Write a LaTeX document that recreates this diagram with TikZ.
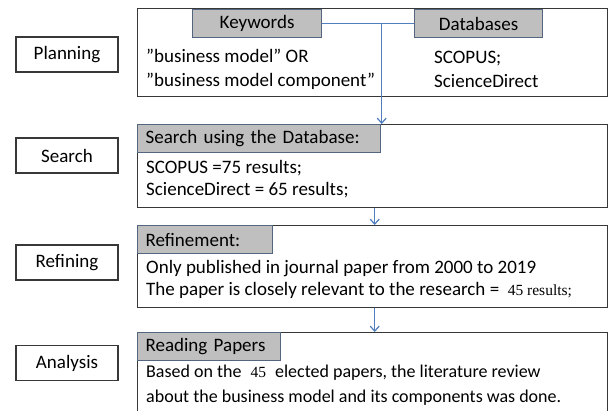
\documentclass[tikz,border=0pt]{standalone}
\usepackage{fontspec}
\setmainfont{Carlito}
\newfontfamily\numfont{Liberation Serif}
\usetikzlibrary{arrows.meta,
                calc,
                positioning}

\definecolor{hdrfill}{RGB}{191,191,191}
\definecolor{hdrline}{RGB}{84,101,128}
\definecolor{boxline}{RGB}{56,56,56}
\definecolor{flowblue}{RGB}{79,125,190}

\begin{document}
\begin{tikzpicture}[
    x=1pt, y=-1pt,
    font=\fontsize{19}{22}\selectfont,
        base/.style = {draw=boxline, line width=1.4pt, inner sep=0pt},
        stage/.style = {base, minimum width=102pt, minimum height=35pt},
        panel/.style = {base, anchor=north west, minimum width=470pt},
        header/.style = {draw=hdrline, line width=1.2pt, fill=hdrfill,
                    anchor=north west, minimum height=28pt, inner sep=0pt},
        hdrleft/.style = {header, inner xsep=8pt, align=left, text width=#1},
        body/.style = {anchor=west, align=left, inner sep=0pt},
        flow/.style = {draw=flowblue, line width=1.2pt},
        arrows=-{Straight Barb[length=5pt,width=9pt]}
        ]

    \clip (0,0) rectangle (610,411);

    % Stages on the left
    \node[stage] (planning) at (67,54.5)  {Planning};
    \node[stage] (search)   at (67,155.5) {Search};
    \node[stage] (refining) at (67,262.5) {Refining};
    \node[stage] (analysis) at (67,363)   {Analysis};

    % Panels
    \node[panel, minimum height=88pt] (plan-box)   at (137,8)   {};
    \node[panel, minimum height=83pt] (search-box) at (137,124) {};
    \node[panel, minimum height=82pt] (refine-box) at (137,225) {};
    \node[panel, minimum height=90pt] (read-box)   at (137,332) {};

    % Headers
    \node[header, minimum width=129pt] (keywords)  at (192,9) {Keywords};
    \node[header, minimum width=128pt] (databases) at (414,9) {Databases};
    \node[hdrleft=227pt] (search-hdr) at (search-box.north west) {Search using the Database:};
    \node[hdrleft=119pt] (refine-hdr) at (refine-box.north west) {Refinement:};
    \node[hdrleft=127pt] (read-hdr)   at (read-box.north west)   {Reading Papers};

    % Panel texts
    \node[body, font=\fontsize{19}{24}\selectfont] (kw-text) at (146,69)
        {”business model” OR\\ ”business model component”};
    \node[body, font=\fontsize{19}{24}\selectfont] (db-text) at (434,69)
        {SCOPUS;\\ ScienceDirect};
    \node[body] (search-text) at (146,179)
        {SCOPUS =75 results;\\ ScienceDirect = 65 results;};
    \node[body] (refine-text) at (146,279)
        {Only published in journal paper from 2000 to 2019\\
         The paper is closely relevant to the research = \ {\numfont\fontsize{15.5}{15.5}\selectfont 45 results;}};
    \node[body, font=\fontsize{18}{25}\selectfont] (read-text) at (146,385.5)
        {Based on the\hspace{9pt}{\numfont\fontsize{15.5}{15.5}\selectfont 45}\hspace{9pt}elected papers, the literature review\\
         about the business model and its components was done.};

    % Connectors
    \draw[flow, -] (keywords) -- (databases);
    \path (keywords.east -| search-box.north) ++(9,0) coordinate (split);
    \draw[flow] (split) -- (split |- search-box.north);
    \draw[flow] ([xshift=2pt]search-box.south) -- ([xshift=2pt]refine-box.north);
    \draw[flow] ([xshift=2pt]refine-box.south) -- ([xshift=2pt]read-box.north);

\end{tikzpicture}
\end{document}
